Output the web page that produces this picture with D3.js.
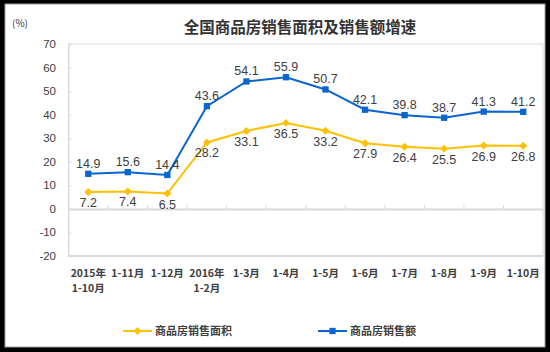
<!DOCTYPE html>
<html>
<head>
<meta charset="utf-8">
<script src="https://cdn.jsdelivr.net/npm/d3@7"></script>
<style>
  html, body { margin: 0; padding: 0; background: #000; }
  svg { display: block; }
</style>
</head>
<body>
<div id="chart"></div>
<script>
// Data
const categories = ["2015年\n1-10月", "1-11月", "1-12月", "2016年\n1-2月", "1-3月", "1-4月",
                    "1-5月", "1-6月", "1-7月", "1-8月", "1-9月", "1-10月"];
const areaGrowth = [7.2, 7.4, 6.5, 28.2, 33.1, 36.5, 33.2, 27.9, 26.4, 25.5, 26.9, 26.8];
const salesGrowth = [14.9, 15.6, 14.4, 43.6, 54.1, 55.9, 50.7, 42.1, 39.8, 38.7, 41.3, 41.2];
const yTicks = [-20, -10, 0, 10, 20, 30, 40, 50, 60, 70];
const seriesNames = ["商品房销售面积", "商品房销售额"];

const W = 550, H = 352;
const yellow = "#FFC000", blue = "#0A66CC";
const textColor = "#404040";
const gridColor = "#d9d9d9";

const svg = d3.select("#chart").append("svg")
    .attr("width", W)
    .attr("height", H);

// white card with thin grey border, black around it
svg.append("rect")
    .attr("x", 5).attr("y", 4)
    .attr("width", 540).attr("height", 343)
    .attr("fill", "#fff")
    .attr("stroke", "#a0a0a0")
    .attr("stroke-width", 1);

const plot = { left: 68.5, right: 543, top: 44, bottom: 256 };

const x = d3.scaleBand()
    .domain(categories)
    .range([plot.left, plot.right])
    .padding(0);

const y = d3.scaleLinear()
    .domain([-20, 70])
    .range([plot.bottom, plot.top]);

const cx = (d, i) => x(categories[i]) + x.bandwidth() / 2;

// plot frame
svg.append("rect")
    .attr("x", plot.left).attr("y", plot.top)
    .attr("width", plot.right - plot.left)
    .attr("height", plot.bottom - plot.top)
    .attr("fill", "none")
    .attr("stroke", gridColor)
    .attr("stroke-width", 1);
svg.append("line")
    .attr("x1", plot.left).attr("x2", plot.right)
    .attr("y1", plot.bottom).attr("y2", plot.bottom)
    .attr("stroke", gridColor).attr("stroke-width", 2);

// y axis (ticks point inward)
const yAxis = d3.axisRight(y)
    .tickValues(yTicks)
    .tickSize(3)
    .tickFormat("");
svg.append("g")
    .attr("transform", "translate(" + plot.left + ",0)")
    .call(yAxis)
    .call(g => g.select(".domain").attr("stroke", gridColor))
    .call(g => g.selectAll(".tick line").attr("stroke", gridColor));

svg.append("g")
    .selectAll("text")
    .data(yTicks)
    .enter().append("text")
    .attr("x", 56)
    .attr("y", d => y(d))
    .attr("dy", "0.35em")
    .attr("text-anchor", "end")
    .attr("font-family", "Liberation Sans, Arial, sans-serif")
    .attr("font-size", 11.5)
    .attr("fill", textColor)
    .text(d => d);

// x axis at zero with small upward ticks on the band edges
const xAxis = d3.axisTop(x).tickSize(0).tickFormat("");
svg.append("g")
    .attr("transform", "translate(0," + y(0) + ")")
    .call(xAxis)
    .call(g => g.select(".domain").attr("stroke", gridColor).attr("stroke-width", 2));
svg.append("g")
    .selectAll("line")
    .data(categories.slice(1))
    .enter().append("line")
    .attr("x1", d => x(d)).attr("x2", d => x(d))
    .attr("y1", y(0) - 4).attr("y2", y(0))
    .attr("stroke", gridColor);

// category labels (one or two lines)
const xLabels = svg.append("g")
    .selectAll("text")
    .data(categories)
    .enter().append("text")
    .attr("x", d => x(d) + x.bandwidth() / 2)
    .attr("y", 277)
    .attr("text-anchor", "middle")
    .attr("font-family", "Noto Sans CJK SC, sans-serif")
    .attr("font-size", 10.5)
    .attr("font-weight", "bold")
    .attr("fill", textColor);
xLabels.each(function (d) {
    const lines = d.split("\n");
    d3.select(this).selectAll("tspan")
        .data(lines)
        .enter().append("tspan")
        .attr("x", x(d) + x.bandwidth() / 2)
        .attr("dy", (l, i) => i === 0 ? 0 : 15)
        .text(l => l);
});

// lines
const line = d3.line().x(cx).y(d => y(d));

svg.append("path")
    .datum(areaGrowth)
    .attr("d", line)
    .attr("fill", "none")
    .attr("stroke", yellow)
    .attr("stroke-width", 2);

svg.append("path")
    .datum(salesGrowth)
    .attr("d", line)
    .attr("fill", "none")
    .attr("stroke", blue)
    .attr("stroke-width", 2);

// markers
const diamond = d3.symbol().type(d3.symbolDiamond2).size(40);
const square = d3.symbol().type(d3.symbolSquare).size(40);

svg.append("g")
    .selectAll("path")
    .data(areaGrowth)
    .enter().append("path")
    .attr("d", diamond)
    .attr("transform", (d, i) => "translate(" + cx(d, i) + "," + y(d) + ")")
    .attr("fill", yellow);

svg.append("g")
    .selectAll("path")
    .data(salesGrowth)
    .enter().append("path")
    .attr("d", square)
    .attr("transform", (d, i) => "translate(" + cx(d, i) + "," + y(d) + ")")
    .attr("fill", blue);

// value labels: blue above, yellow below
svg.append("g")
    .selectAll("text")
    .data(salesGrowth)
    .enter().append("text")
    .attr("x", cx)
    .attr("y", d => y(d) - 6)
    .attr("text-anchor", "middle")
    .attr("font-family", "Liberation Sans, Arial, sans-serif")
    .attr("font-size", 12.5)
    .attr("fill", textColor)
    .text(d => d.toFixed(1));

svg.append("g")
    .selectAll("text")
    .data(areaGrowth)
    .enter().append("text")
    .attr("x", cx)
    .attr("y", d => y(d) + 15)
    .attr("text-anchor", "middle")
    .attr("font-family", "Liberation Sans, Arial, sans-serif")
    .attr("font-size", 12.5)
    .attr("fill", textColor)
    .text(d => d.toFixed(1));

// title and unit
svg.append("text")
    .attr("x", 300)
    .attr("y", 33)
    .attr("text-anchor", "middle")
    .attr("font-family", "Noto Sans CJK SC, sans-serif")
    .attr("font-size", 15.5)
    .attr("font-weight", "bold")
    .attr("fill", "#333")
    .text("全国商品房销售面积及销售额增速");

svg.append("text")
    .attr("x", 12)
    .attr("y", 27)
    .attr("font-family", "Noto Sans CJK SC, sans-serif")
    .attr("font-size", 10)
    .attr("fill", textColor)
    .text("(%)");

// legend
const legend = [
    { name: seriesNames[0], color: yellow, sym: diamond, x0: 123 },
    { name: seriesNames[1], color: blue, sym: square, x0: 318 }
];
const lg = svg.append("g")
    .selectAll("g")
    .data(legend)
    .enter().append("g")
    .attr("transform", d => "translate(" + d.x0 + ",331)");
lg.append("line")
    .attr("x1", 0).attr("x2", 29)
    .attr("stroke", d => d.color)
    .attr("stroke-width", 2);
lg.append("path")
    .attr("d", d => d.sym())
    .attr("transform", "translate(14.5,0)")
    .attr("fill", d => d.color);
lg.append("text")
    .attr("x", 32)
    .attr("dy", "0.35em")
    .attr("font-family", "Noto Sans CJK SC, sans-serif")
    .attr("font-size", 11)
    .attr("font-weight", "bold")
    .attr("fill", textColor)
    .text(d => d.name);
</script>
</body>
</html>
